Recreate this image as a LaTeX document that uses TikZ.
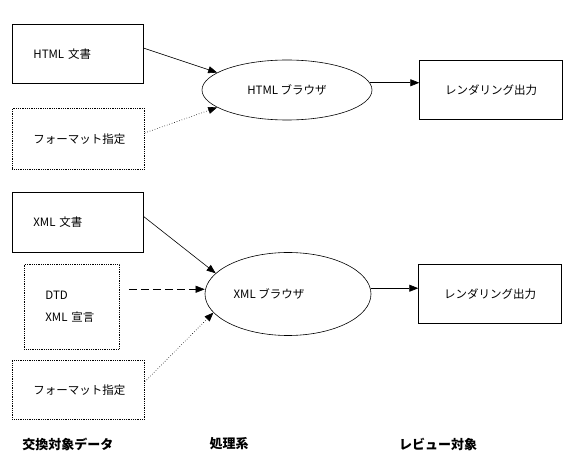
\documentclass[tikz,border=0pt]{standalone}
\usepackage{fontspec}
\setmainfont{Noto Sans CJK JP}
\usetikzlibrary{arrows.meta,positioning,shapes.geometric}

\begin{document}
\begin{tikzpicture}[x=1pt,y=-1pt,font=\fontsize{11.5}{13.5}\selectfont,>={Triangle[length=9pt,width=7pt]},
  box/.style={draw,line width=0.8pt,minimum height=59pt,inner sep=0pt},
  srcbox/.style={box,align=left,inner xsep=21pt},
  dotbox/.style={densely dotted},
  brw/.style={draw,ellipse,line width=0.6pt,inner sep=0pt},
  conn/.style={->,line width=0.6pt},
  cat/.style={font=\fontsize{13}{15}\selectfont\bfseries}]
  \useasboundingbox (0,0) rectangle (566,468);
  \node[srcbox,text width=89pt,anchor=north west] (hdoc) at (12,24) {HTML 文書};
  \node[srcbox,dotbox,text width=90pt,minimum height=61pt,below=24pt of hdoc.south west,anchor=north west] (hfmt) {フォーマット指定};
  \node[brw,minimum width=170pt,minimum height=60pt] (hbr) at (287,90) {HTML ブラウザ};
  \node[box,minimum width=143pt,right=47pt of hbr] (hout) {レンダリング出力};
  \node[srcbox,text width=89pt,minimum height=60pt,anchor=north west] (xdoc) at (12,192) {XML 文書};
  \node[srcbox,dotbox,text width=53pt,minimum height=85pt,below right=11pt and 12pt of xdoc.south west,anchor=north west] (dtd) {DTD\\[9pt]XML 宣言};
  \node[srcbox,dotbox,text width=90pt,anchor=north west] (xfmt) at (12,360) {フォーマット指定};
  \node[brw,minimum width=166pt,minimum height=83pt] (xbr) at (288,294) {XML ブラウザ\hspace*{38pt}};
  \node[box,minimum width=143pt,right=47pt of xbr] (xout) {レンダリング出力};
  \node[cat] (lsrc) at (68,444) {交換対象データ};
  \node[cat] (lproc) at (229,444) {処理系};
  \node[cat] (lrev) at (438,444) {レビュー対象};
  \draw[conn] (hdoc.5) -- (hbr.166);
  \draw[conn,dotted] (hfmt.5) -- (hbr.194);
  \draw[conn] (hbr.5) -- (hbr.5 -| hout.west);
  \draw[conn] (xdoc.5) -- (xbr.164);
  \draw[conn,line width=0.5pt,dash pattern=on 8pt off 4pt,shorten <=9pt] (dtd.20) -- (dtd.20 -| xbr.west);
  \draw[conn,dotted] (xfmt.7) -- (xbr.194);
  \draw[conn] (xbr.4) -- (xbr.4 -| xout.west);
\end{tikzpicture}
\end{document}
